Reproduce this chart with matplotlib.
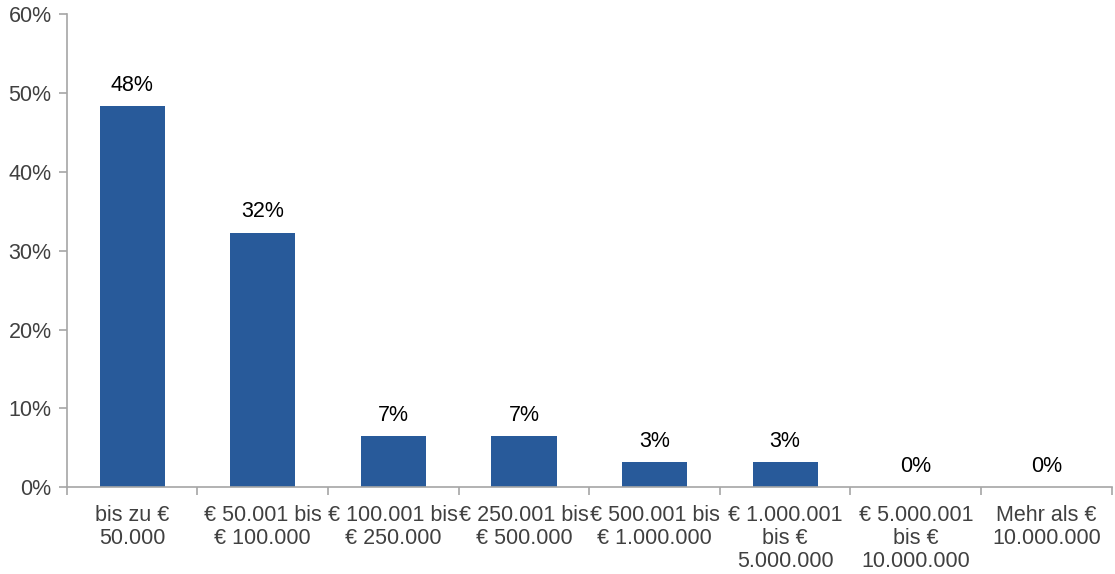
import numpy as np
import matplotlib.pyplot as plt
from matplotlib.ticker import FixedLocator, NullFormatter

plt.rcParams['font.family'] = ['Liberation Sans', 'DejaVu Sans']

categories = [
    "bis zu €\n50.000",
    "€ 50.001 bis\n€ 100.000",
    "€ 100.001 bis\n€ 250.000",
    "€ 250.001 bis\n€ 500.000",
    "€ 500.001 bis\n€ 1.000.000",
    "€ 1.000.001\nbis €\n5.000.000",
    "€ 5.000.001\nbis €\n10.000.000",
    "Mehr als €\n10.000.000",
]
values = [48.4, 32.3, 6.5, 6.5, 3.2, 3.2, 0.0, 0.0]
labels = ["48%", "32%", "7%", "7%", "3%", "3%", "0%", "0%"]
yticks = [0, 10, 20, 30, 40, 50, 60]

FS = 15.5

fig = plt.figure(figsize=(11.15, 5.74), dpi=100)
ax = fig.add_axes([0.060, 0.151, 0.937, 0.824])

x = np.arange(len(categories))
ax.bar(x, values, width=0.5, color='#285A9A')

# value labels above the bars
for xi, v, lab in zip(x, values, labels):
    ax.annotate(lab, (xi, v), xytext=(0, 11), textcoords='offset points',
                ha='center', va='baseline', fontsize=FS, color='black')

ax.set_xlim(-0.5, len(categories) - 0.5)
ax.set_ylim(0, 60)
ax.set_yticks(yticks)
ax.set_yticklabels([f"{t}%" for t in yticks], fontsize=FS, color='#404040')

ax.set_xticks(x)
ax.set_xticklabels(categories, fontsize=FS, color='#404040', linespacing=1.12)
ax.tick_params(axis='x', which='major', length=0, pad=13)
# tick marks between categories
ax.xaxis.set_minor_locator(FixedLocator(np.arange(len(categories) + 1) - 0.5))
ax.xaxis.set_minor_formatter(NullFormatter())
ax.tick_params(axis='x', which='minor', length=6, color='#A6A6A6', width=1.2)
ax.tick_params(axis='y', length=6, color='#A6A6A6', width=1.2, pad=5)

for side in ['top', 'right']:
    ax.spines[side].set_visible(False)
for side in ['left', 'bottom']:
    ax.spines[side].set_color('#A6A6A6')
    ax.spines[side].set_linewidth(1.2)

fig.savefig('out.png', dpi=100)
